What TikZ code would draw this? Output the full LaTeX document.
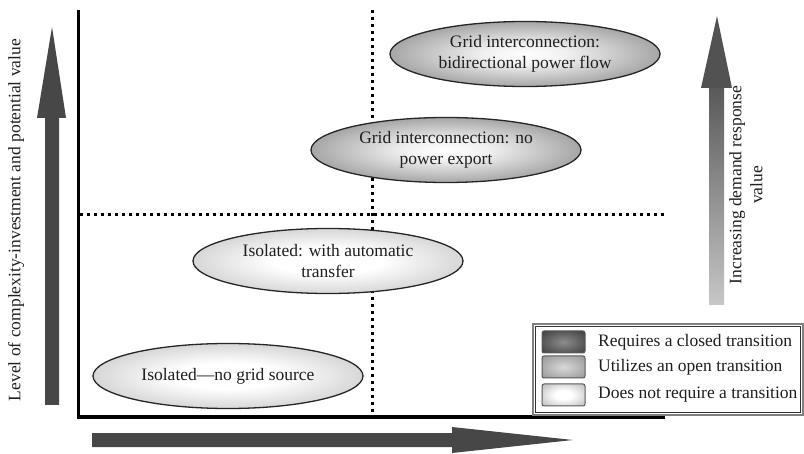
\documentclass[tikz,border=0pt]{standalone}
\usepackage{fontspec}
\setmainfont{Liberation Serif}
\usetikzlibrary{positioning,shapes.geometric}

\pgfdeclareradialshading{darkshade}{\pgfpoint{0bp}{0bp}}{color(0bp)=(white); color(8bp)=(black!6); color(28bp)=(black!40); color(40bp)=(black!72); color(50bp)=(black!88); color(60bp)=(black!88)}
\pgfdeclareradialshading{keydark}{\pgfpoint{0bp}{0bp}}{color(0bp)=(black!45); color(50bp)=(black!88); color(60bp)=(black!88)}
\pgfdeclareradialshading{midshade}{\pgfpoint{0bp}{0bp}}{color(0bp)=(black!15); color(50bp)=(black!52); color(60bp)=(black!52)}
\pgfdeclareradialshading{lightshade}{\pgfpoint{0bp}{0bp}}{color(0bp)=(white); color(10bp)=(white); color(50bp)=(black!42); color(60bp)=(black!42)}

\begin{document}
\begin{tikzpicture}[x=1pt, y=1pt,
  every node/.style={font=\fontsize{17.5}{21}\selectfont, text=black!88},
  oval/.style={ellipse, draw=black!85, line width=1.3pt, inner sep=0pt,
    minimum width=270pt, minimum height=65pt, align=center},
  darkoval/.style={oval, shading=darkshade},
  lightoval/.style={oval, shading=lightshade},
  axis/.style={line width=3pt},
  dotline/.style={line width=3pt, dash pattern=on 3pt off 4pt},
  swatch/.style={draw=black!65, line width=1pt, rounded corners=2pt,
    minimum width=43pt, minimum height=22pt, inner sep=0pt},
  legtext/.style={anchor=west, inner sep=0pt}]
\useasboundingbox (0,0) rectangle (804,453);

% Quadrant lines
\coordinate (O) at (78,36);
\coordinate (ytop) at (78,443);
\coordinate (xend) at (665,36);
\draw[dotline] (372,443) -- (372,37);
\draw[dotline] (80,238) -- (665,238);
\draw[axis] (ytop) -- (O) -- (xend);

% Block arrows
\fill[black!72] (45,48) -- (45,335) -- (37,335) -- (52,426) -- (66,335) -- (59,335) -- (59,48) -- cycle;
\fill[black!72] (92,6) -- (92,20) -- (452,20) -- (452,26) -- (573,13) -- (452,0) -- (452,6) -- cycle;
\shade[top color=black!65, bottom color=black!22] (709,148) rectangle (724,366);
\fill[black!68] (701,365) -- (717,437) -- (732,365) -- cycle;

% Axis labels
\node[rotate=90] (ylab) at (16,233) {Level of complexity-investment and potential value};
\node[rotate=90, align=center] (dr) at (746,268) {Increasing demand response\\value};

% Interconnection options
\node[darkoval] (bidir) at (525,399) {Grid interconnection:\\bidirectional power flow};
\node[darkoval] (noexp) at (446,303) {Grid interconnection: no\\power export};
\node[lightoval] (auto) at (328,192) {Isolated: with automatic\\transfer};
\node[lightoval] (iso) at (228,77) {Isolated\textemdash no grid source};

% Legend
\draw[black!50, line width=1.5pt, fill=white] (533,38) rectangle (803,129);
\draw[black!80, line width=0.6pt] (535.5,40.5) rectangle (800.5,126.5);
\node[swatch, shading=keydark] (k1) at (563.5,111) {};
\node[swatch, shading=midshade] (k2) at (563.5,86) {};
\node[swatch, shading=lightshade] (k3) at (563.5,58) {};
\node[legtext] (t1) at (598,111) {Requires a closed transition};
\node[legtext] (t2) at (598,86) {Utilizes an open transition};
\node[legtext] (t3) at (598,58) {Does not require a transition};
\end{tikzpicture}
\end{document}
